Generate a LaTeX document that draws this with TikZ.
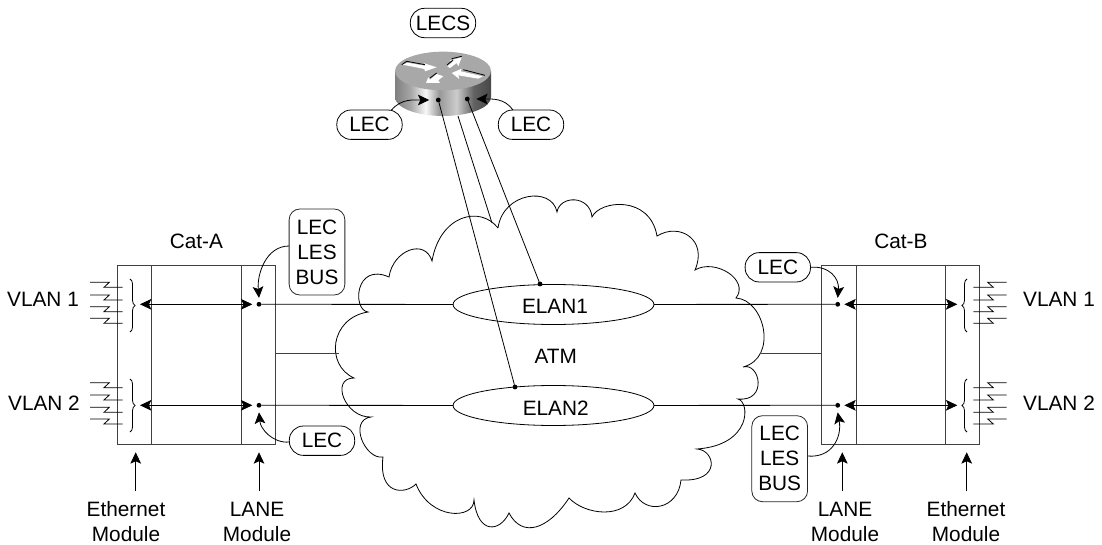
\documentclass[tikz,border=0pt]{standalone}
\usepackage{fontspec}
\setmainfont{Liberation Sans}
\usetikzlibrary{arrows.meta, positioning, calc, shapes.geometric, decorations.pathreplacing}
\pgfdeclarehorizontalshading{routerbody}{100bp}{
    color(0bp)=(black!50); color(25bp)=(black!50); color(33bp)=(black!35);
    color(41bp)=(black!3); color(48bp)=(black!40); color(57bp)=(black!20);
    color(66bp)=(black!62); color(75bp)=(black!72); color(100bp)=(black!72)}
\tikzset{
    lanediagram/.style={>={Stealth[length=8.5pt, width=8pt, inset=1.8pt]}, line width=0.6pt, x=0.75pt, y=-0.75pt,
        every node/.style={font=\fontsize{15.6}{18.75}\selectfont, inner sep=0pt, outer sep=0pt}},
    bubble/.style={draw, rounded corners=10.5pt, minimum width=49pt, minimum height=22pt},
    tallbubble/.style={draw, black!85, text=black, rounded corners=8pt, minimum width=41.8pt, minimum height=64.5pt, align=center},
    module/.style={draw, black!75, line width=0.8pt, minimum height=134pt},
    ethmodule/.style={module, minimum width=25.8pt},
    midmodule/.style={module, minimum width=67pt},
    lanemodule/.style={module, minimum width=26pt},
    contact/.style={fill, circle, inner sep=0pt, minimum size=3.6pt},
    elan/.style={draw, ellipse, minimum width=150.7pt, minimum height=30pt},
    notelabel/.style={align=center},
    vlanbrace/.style={decorate, decoration={brace, amplitude=3.8pt}},
}
\begin{document}
\begin{tikzpicture}[lanediagram]
    \useasboundingbox (0,0) rectangle (1102,545);

    % router
    \shade[shading=routerbody] (395,71) -- (395,97) .. controls (395,108) and (417,116) .. (443,116)
        .. controls (469,116) and (491,108) .. (491,97) -- (491,71) -- cycle;
    \fill[black!34] (443,71) ellipse [x radius=36pt, y radius=14.5pt];
    \fill[white] (402.7,64.7) -- (407.3,62.7) -- (425,65.7) -- (424,63.3) -- (436.7,67.3) -- (425,71.3) -- (424.3,69) -- cycle;
    \fill[white] (447.3,66.3) -- (453.3,61.3) -- (449.3,60.7) -- (461.7,57.3) -- (458.3,66.3) -- (456.7,63) -- (450,68) -- cycle;
    \fill[white] (451.7,73) -- (461.7,68.7) -- (460.7,71.3) -- (482.7,76.3) -- (478.3,78.7) -- (458.3,75.3) -- (459.3,79) -- cycle;
    \fill[white] (426,83) -- (428.3,77.3) -- (430,79.7) -- (436.7,74) -- (443.3,76.3) -- (438.3,80.3) -- (440,83) -- cycle;
    \draw (401.7,64.7) -- (406.7,61.3) -- (425,64.7);
    \draw (447,65) -- (453,60);
    \draw (451.7,58.7) -- (461.7,56.3);
    \draw (463.3,69.7) -- (485,75.3);
    \draw (430,78) -- (436.7,73);

    \node[bubble] (lecs) at (443,23) {LECS};
    \node[bubble] (lecleft) at (369.5,124.7) {LEC};
    \node[bubble] (lecright) at (531,124.7) {LEC};
    \node[contact] (routerdotl) at (438.3,100) {};
    \node[contact] (routerdotr) at (467.3,99) {};
    \coordinate (routerfoot) at (458,116);

    % cloud
    \draw (498,228) .. controls (503,192) and (552,186) .. (557,212)
        .. controls (560,195) and (590,195) .. (592,217)
        .. controls (600,200) and (650,195) .. (657,236)
        .. controls (680,222) and (708,240) .. (695,270)
        .. controls (715,258) and (750,280) .. (736,298)
        .. controls (765,300) and (778,358) .. (743,367)
        .. controls (760,362) and (768,402) .. (738,399)
        .. controls (750,402) and (752,445) .. (697,449)
        .. controls (715,450) and (722,482) .. (681,480)
        .. controls (678,510) and (645,515) .. (635,493)
        .. controls (625,520) and (585,515) .. (569,498)
        .. controls (548,530) and (522,538) .. (509,513)
        .. controls (500,532) and (478,535) .. (474,500)
        .. controls (474,520) and (430,520) .. (416,484)
        .. controls (405,495) and (378,495) .. (383,457)
        .. controls (365,460) and (348,420) .. (371,417)
        .. controls (345,418) and (330,378) .. (354,378)
        .. controls (325,365) and (330,318) .. (368,312)
        .. controls (352,310) and (355,262) .. (389,277)
        .. controls (393,250) and (425,238) .. (432,261)
        .. controls (440,215) and (480,205) .. (498,228);

    \node[elan] (elan1) at (553.5,304.5) {};
    \node[elan] (elan2) at (553.5,405.5) {};
    \node (elantext1) at (555,306.5) {ELAN1};
    \node (elantext2) at (555.7,408) {ELAN2};
    \node (atm) at (555.7,356) {ATM};
    \node[contact] (elandot1) at (540,284) {};
    \node[contact] (elandot2) at (515,387) {};
    \coordinate (cloudtop) at (492,223);

    % Cat-A
    \node[ethmodule] (ethA) at (134.5,355) {};
    \node[midmodule, right=0pt of ethA] (midA) {};
    \node[lanemodule, right=0pt of midA] (laneA) {};
    \node[above=13pt of midA] (catA) {Cat-A};
    \node[contact] (dotA1) at (259,304.3) {};
    \node[contact] (dotA2) at (259,405.3) {};
    \node[tallbubble] (busA) at (317,252) {LEC\\LES\\BUS};
    \node[bubble] (lecA) at (322,440.7) {LEC};
    \node (vlanA1) at (43,299) {VLAN 1};
    \node (vlanA2) at (44,403) {VLAN 2};
    \node[notelabel] (ethnoteA) at (126,522) {Ethernet\\Module};
    \node[notelabel] (lanenoteA) at (257,522) {LANE\\Module};

    % Cat-B
    \node[ethmodule] (ethB) at (962.7,355) {};
    \node[midmodule, left=0pt of ethB] (midB) {};
    \node[lanemodule, left=0pt of midB] (laneB) {};
    \node[above=13pt of midB] (catB) {Cat-B};
    \node[contact] (dotB1) at (837.7,304.3) {};
    \node[contact] (dotB2) at (837.7,405.3) {};
    \node[bubble] (lecB) at (777.8,267.3) {LEC};
    \node[tallbubble] (busB) at (779.7,458.7) {LEC\\LES\\BUS};
    \node (vlanB1) at (1059,299) {VLAN 1};
    \node (vlanB2) at (1059,403) {VLAN 2};
    \node[notelabel] (lanenoteB) at (845,522) {LANE\\Module};
    \node[notelabel] (ethnoteB) at (966,522) {Ethernet\\Module};

    % connectors
    \draw (routerdotl) -- (elandot2);
    \draw (routerfoot) -- (cloudtop);
    \draw (routerdotr) -- (elandot1);
    \draw[->] ([xshift=-8pt]lecleft.north east) to[out=50, in=180] ([xshift=-5pt]routerdotl.west);
    \draw[->] ([xshift=11pt]lecright.north west) to[out=125, in=0] ([xshift=5pt]routerdotr.east);

    \draw (dotA1) -- (elan1);
    \draw (dotA2) -- (elan2);
    \draw (elan1) -- (dotB1);
    \draw (elan2) -- (dotB2);
    \coordinate (cloudleft) at (339,353.7);
    \coordinate (cloudright) at (760,353.7);
    \draw[black!75] (laneA.east |- cloudleft) -- (cloudleft);
    \draw[black!75] (cloudright) -- (laneB.west |- cloudright);

    \draw[<->] (140,304.3) coordinate (tailA1) -- ([xshift=-3.2pt]dotA1.west);
    \draw[<->] (140,405.3) coordinate (tailA2) -- ([xshift=-3.2pt]dotA2.west);
    \draw[<->] ([xshift=3.2pt]dotB1.east) -- (957.3,304.3) coordinate (tailB1);
    \draw[<->] ([xshift=3.2pt]dotB2.east) -- (957.3,405.3) coordinate (tailB2);

    \draw[->] ([yshift=4.5pt]busA.west) to[out=180, in=95] ([yshift=3pt]dotA1.north);
    \draw[->] ([yshift=-1pt]lecA.west) to[out=185, in=-85] ([yshift=-3.5pt]dotA2.south);
    \draw[->] (lecB.east) to[out=5, in=85, looseness=1.2] ([yshift=3pt]dotB1.north);
    \draw[->] ([yshift=2pt]busB.east) to[out=-5, in=-80, looseness=1.2] ([yshift=-3.5pt]dotB2.south);

    \foreach \x/\name in {135.7/a, 259/b, 842.3/c, 966.7/d} {
        \coordinate (tail\name) at (\x,490.5);
        \coordinate (head\name) at (\x,452.3);
        \draw[->] (tail\name) -- (head\name);
    }

    % vlan ports
    \foreach \y in {282.3,295,306.7,318.3,382.7,395,407.3,419} {
        \draw (90,\y) -- (109.3,\y) -- (104,\y+5) -- (122.7,\y+5);
        \draw (1006.7,\y) -- (987.7,\y) -- (993.3,\y+5) -- (973.3,\y+5);
    }
    \draw[vlanbrace] (130,279) -- (130,332);
    \draw[vlanbrace] (130,379) -- (130,432);
    \draw[vlanbrace] (967,332) -- (967,279);
    \draw[vlanbrace] (967,432) -- (967,379);
\end{tikzpicture}
\end{document}
